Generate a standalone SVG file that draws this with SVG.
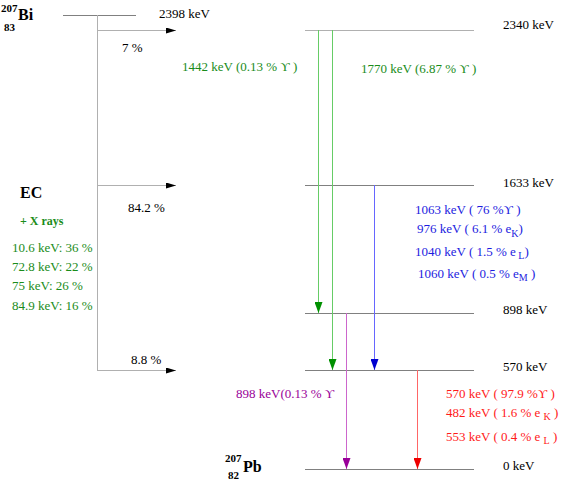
<svg xmlns="http://www.w3.org/2000/svg" width="562" height="481" viewBox="0 0 562 481">
<style>
text{font-family:"Liberation Serif","Times New Roman","DejaVu Serif",serif;font-size:13px;}
.b{font-weight:bold;}
.lvl{stroke:#808080;stroke-width:1;}
.gry{stroke:#b0b0b0;stroke-width:1;}
.g{fill:#1a8c1a;}
.bl{fill:#1c1ce0;}
.pu{fill:#990099;}
.rd{fill:#ff1a1a;}
.sub{font-size:10px;}
.iso{font-weight:bold;font-size:11px;}
</style>
<defs>
<marker id="ah" markerWidth="10" markerHeight="6" refX="10" refY="3" orient="auto" markerUnits="userSpaceOnUse"><path d="M0,0L10,3L0,6Z" fill="#000"/></marker>
<marker id="ag" markerWidth="8" markerHeight="11" refX="4" refY="11" orient="0" markerUnits="userSpaceOnUse"><path d="M0,0L8,0L4,11Z" fill="#009000"/></marker>
<marker id="ab" markerWidth="8" markerHeight="11" refX="4" refY="11" orient="0" markerUnits="userSpaceOnUse"><path d="M0,0L8,0L4,11Z" fill="#0000d0"/></marker>
<marker id="ap" markerWidth="8" markerHeight="11" refX="4" refY="11" orient="0" markerUnits="userSpaceOnUse"><path d="M0,0L8,0L4,11Z" fill="#990099"/></marker>
<marker id="ar" markerWidth="8" markerHeight="11" refX="4" refY="11" orient="0" markerUnits="userSpaceOnUse"><path d="M0,0L8,0L4,11Z" fill="#ee0000"/></marker>
</defs>
<rect width="562" height="481" fill="#fff"/>

<g id="bi207">
<text x="1" y="12" class="iso">207</text>
<text x="18" y="20" class="b" style="font-size:16px">Bi</text>
<text x="4" y="31" class="iso">83</text>
<line x1="63" y1="15.5" x2="136" y2="15.5" class="lvl"/>
<text x="159" y="18">2398 keV</text>
</g>

<g id="ec">
<text x="20" y="198" class="b" style="font-size:16px">EC</text>
<text x="20" y="225" class="b g" style="font-size:12px">+ X rays</text>
<text x="12" y="252" class="g">10.6 keV: 36 %</text>
<text x="12" y="271" class="g">72.8 keV: 22 %</text>
<text x="12" y="290" class="g">75 keV: 26 %</text>
<text x="12" y="310" class="g">84.9 keV: 16 %</text>
</g>

<g id="level2340">
<line x1="305" y1="30.5" x2="474" y2="30.5" class="gry"/>
<text x="503" y="29">2340 keV</text>
</g>
<g id="level1633">
<line x1="305" y1="185.5" x2="474" y2="185.5" class="lvl"/>
<text x="503" y="187">1633 keV</text>
</g>
<g id="level898">
<line x1="305" y1="313.5" x2="474" y2="313.5" class="lvl"/>
<text x="503" y="314">898 keV</text>
</g>
<g id="level570">
<line x1="305" y1="370.5" x2="474" y2="370.5" class="lvl"/>
<text x="503" y="371">570 keV</text>
</g>
<g id="level0">
<line x1="305" y1="469.5" x2="474" y2="469.5" class="lvl"/>
<text x="503" y="470">0 keV</text>
</g>

<g id="pb207">
<text x="225" y="462" class="iso">207</text>
<text x="243" y="472" class="b" style="font-size:16px">Pb</text>
<text x="228" y="479" class="iso">82</text>
</g>

<g id="connectors">
<line x1="97.5" y1="15" x2="97.5" y2="370" class="gry"/>
<line x1="97" y1="30.5" x2="176" y2="30.5" class="gry" marker-end="url(#ah)"/>
<line x1="97" y1="185.5" x2="176" y2="185.5" class="gry" marker-end="url(#ah)"/>
<line x1="97" y1="370.5" x2="176" y2="370.5" class="gry" marker-end="url(#ah)"/>
<line x1="318.5" y1="30" x2="318.5" y2="313" stroke="#66cc66" marker-end="url(#ag)"/>
<line x1="332.5" y1="30" x2="332.5" y2="370" stroke="#66cc66" marker-end="url(#ag)"/>
<line x1="374.5" y1="185" x2="374.5" y2="370" stroke="#6666ff" marker-end="url(#ab)"/>
<line x1="346.5" y1="313" x2="346.5" y2="469" stroke="#cc66cc" marker-end="url(#ap)"/>
<line x1="417.5" y1="370" x2="417.5" y2="469" stroke="#ff6666" marker-end="url(#ar)"/>
</g>

<g id="labels">
<text x="122" y="52">7 %</text>
<text x="128" y="212">84.2 %</text>
<text x="131" y="364">8.8 %</text>
<text x="182" y="71" class="g">1442 keV (0.13 % ϒ   )</text>
<text x="361" y="73" class="g">1770 keV (6.87 % ϒ )</text>
<text x="415" y="214" class="bl">1063 keV ( 76 %ϒ )</text>
<text x="417" y="233" class="bl">976 keV ( 6.1 % e<tspan dy="4" class="sub">K</tspan><tspan dy="-4">)</tspan></text>
<text x="415" y="256" class="bl">1040 keV ( 1.5 % e<tspan dy="3" class="sub"> L</tspan><tspan dy="-3">)</tspan></text>
<text x="418" y="278" class="bl">1060 keV ( 0.5 % e<tspan dy="3" class="sub">M</tspan><tspan dy="-3"> )</tspan></text>
<text x="236" y="398" class="pu">898 keV(0.13 % ϒ</text>
<text x="446" y="398" class="rd">570  keV ( 97.9 %ϒ  )</text>
<text x="446" y="417" class="rd">482 keV ( 1.6 % e <tspan dy="3" class="sub">K</tspan><tspan dy="-3"> )</tspan></text>
<text x="446" y="441" class="rd">553 keV ( 0.4 %  e <tspan dy="3" class="sub">L</tspan><tspan dy="-3"> )</tspan></text>
</g>
</svg>
